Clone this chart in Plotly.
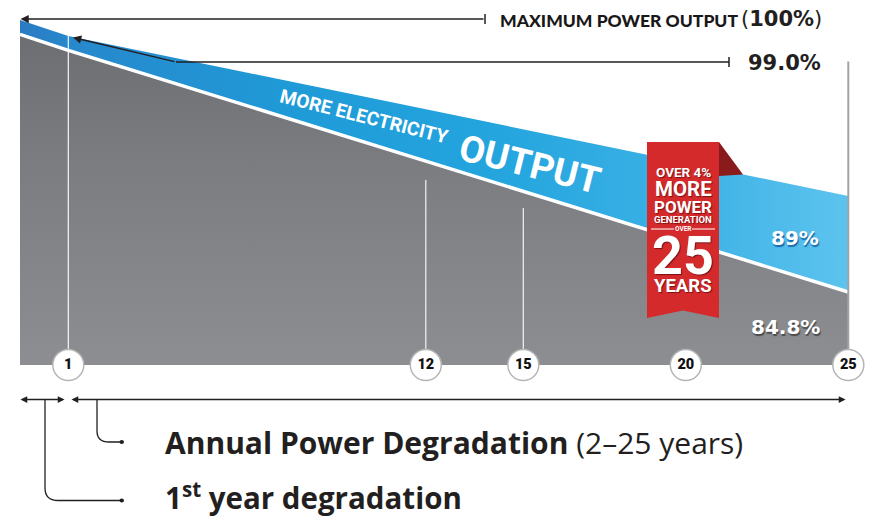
import plotly.graph_objects as go

W, H = 871, 518

# ---------------- data ----------------
YEARS = [0, 1, 25]
PREMIUM_PCT = [100.0, 99.0, 89.0]      # top edge of the blue band
STANDARD_PCT = [99.1, 98.1, 83.0]      # top edge of the grey area, as drawn
TICK_YEARS = [1, 12, 15, 20, 25]
TICK_LABELS = ["1", "12", "15", "20", "25"]
GUIDE_YEARS = [1, 12, 15]
GUIDE_TOPS = [99.0, 90.0, 88.25]
FRAME_YEAR = 25
FRAME_TOP = 97.4

Y_FLOOR = 78.4375
Y_CEIL = 101.25

DARK = "#231f20"
MAIN_FONT = "Lato"
BIG_FONT = "Open Sans"
NUM_FONT = "DejaVu Sans"
COND_FONT = "Roboto"
RIB_FONT = "Roboto"


def P(x, y):
    return x / W, 1 - y / H


fig = go.Figure()

gray_grad = dict(type="vertical", start=Y_FLOOR, stop=100,
                 colorscale=[[0, "#8d8e91"], [0.6, "#7b7c80"], [1, "#6b6c70"]])

# first-year segment on xaxis (below), years 1-25 on xaxis2 (drawn above)
segments = [
    ("x", YEARS[:2], [[0, "#2b7bc3"], [1, "#2788cc"]]),
    ("x2", YEARS[1:], [[0, "#2788cc"], [0.3, "#1f9bd8"], [0.55, "#24a5de"],
                       [0.8, "#3db2e6"], [1, "#5dc3ee"]]),
]
for xa, yrs, blue_scale in segments:
    i0 = YEARS.index(yrs[0])
    i1 = YEARS.index(yrs[-1]) + 1
    std = STANDARD_PCT[i0:i1]
    prem = PREMIUM_PCT[i0:i1]
    fig.add_trace(go.Scatter(x=yrs, y=std, xaxis=xa, yaxis="y", mode="lines",
                             line=dict(width=0), fill="tozeroy",
                             fillgradient=gray_grad, hoverinfo="skip",
                             showlegend=False))
    fig.add_trace(go.Scatter(x=yrs, y=prem, xaxis=xa, yaxis="y", mode="lines",
                             line=dict(width=0), fill="tonexty",
                             fillgradient=dict(type="horizontal",
                                               colorscale=blue_scale),
                             hoverinfo="skip", showlegend=False))
    fig.add_trace(go.Scatter(x=yrs, y=std, xaxis=xa, yaxis="y", mode="lines",
                             line=dict(color="white", width=3.5),
                             hoverinfo="skip", showlegend=False))

# guide lines
gx, gy = [], []
for yr, top in zip(GUIDE_YEARS, GUIDE_TOPS):
    gx += [yr, yr, None]
    gy += [top, Y_FLOOR, None]
fig.add_trace(go.Scatter(x=gx, y=gy, xaxis="x2", yaxis="y", mode="lines",
                         line=dict(color="rgba(255,255,255,0.9)", width=1.2),
                         hoverinfo="skip", showlegend=False))
fig.add_trace(go.Scatter(x=[FRAME_YEAR, FRAME_YEAR], y=[FRAME_TOP, Y_FLOOR],
                         xaxis="x2", yaxis="y",
                         mode="lines", line=dict(color="#a3a3a3", width=2),
                         hoverinfo="skip", showlegend=False))

# year circles
fig.add_trace(go.Scatter(x=TICK_YEARS, y=[Y_FLOOR - 0.1] * len(TICK_YEARS),
                         xaxis="x2", yaxis="y",
                         mode="markers", cliponaxis=False,
                         marker=dict(size=34, color="rgba(0,0,0,0.22)"),
                         hoverinfo="skip", showlegend=False))
fig.add_trace(go.Scatter(x=TICK_YEARS, y=[Y_FLOOR] * len(TICK_YEARS),
                         xaxis="x2", yaxis="y",
                         mode="markers+text", cliponaxis=False,
                         text=TICK_LABELS,
                         textposition="middle center",
                         textfont=dict(family="Roboto", size=14.5,
                                       color="#111", weight=900),
                         marker=dict(size=31, color="white",
                                     line=dict(color="#b5b5b5", width=1.5)),
                         hoverinfo="skip", showlegend=False))

shapes = []
ann = []


def line(x0, y0, x1, y1, color=DARK, width=1.5):
    a, b = P(x0, y0)
    c, d = P(x1, y1)
    shapes.append(dict(type="line", xref="paper", yref="paper", x0=a, y0=b,
                       x1=c, y1=d, line=dict(color=color, width=width)))


def path(points, color, fill=None, width=0, closed=True):
    s = ""
    for i, pt in enumerate(points):
        if pt[0] == "Q":
            a, b = P(*pt[1])
            c, d = P(*pt[2])
            s += " Q %f,%f %f,%f" % (a, b, c, d)
        else:
            a, b = P(*pt)
            s += (" M " if i == 0 else " L ") + "%f,%f" % (a, b)
    if closed:
        s += " Z"
    shapes.append(dict(type="path", xref="paper", yref="paper", path=s,
                       fillcolor=fill if fill else "rgba(0,0,0,0)",
                       line=dict(color=color, width=width)))


def text(x, y, t, size, color=DARK, family=MAIN_FONT, xanchor="center",
         angle=0, shadow=None, weight=None):
    a, b = P(x, y)
    f = dict(family=family, size=size, color=color)
    if shadow:
        f["shadow"] = shadow
    if weight:
        f["weight"] = weight
    ann.append(dict(x=a, y=b, xref="paper", yref="paper", text=t,
                    showarrow=False, xanchor=xanchor, yanchor="middle",
                    textangle=angle, font=f))


def arrow(x, y, tx, ty, both=False, size=1.0):
    a, b = P(x, y)
    ann.append(dict(x=a, y=b, xref="paper", yref="paper", text="",
                    showarrow=True, axref="pixel", ayref="pixel",
                    ax=tx - x, ay=ty - y, arrowhead=2, arrowsize=size,
                    arrowwidth=1.5, arrowcolor=DARK, standoff=0,
                    startstandoff=0,
                    arrowside="end+start" if both else "end"))


# ---- top callouts ----
arrow(20.5, 19, 485, 19, size=1.1)
line(485, 14, 485, 24)
text(498, 20, "MAXIMUM POWER OUTPUT", 17.5, xanchor="left",
     color="#1a1718", weight=900)
text(739, 19, "(<b>100%</b>)", 21, family=NUM_FONT, xanchor="left")

line(176, 62, 729, 62)
line(729, 57, 729, 67)
arrow(73, 37.5, 176, 62, size=1.1)
text(746, 63, "<b>99.0%</b>", 21, family=NUM_FONT, xanchor="left")

# ---- band texts ----
text(364, 116, "<b>MORE ELECTRICITY</b>", 19, color="white", family=COND_FONT,
     angle=14)
text(530, 164, "<b>OUTPUT</b>", 37, color="white", family=COND_FONT, angle=14)
text(795, 238, "<b>89%</b>", 20, color="white", family=NUM_FONT,
     shadow="1px 2px 1px #1a6aa8")
text(785, 327, "<b>84.8%</b>", 20, color="white", family=NUM_FONT,
     shadow="1px 2px 1px #4a4b4e")

# ---- ribbon ----
path([(719, 142), (743, 174.5), (719, 176)], "#8a1b1d", fill="#8a1b1d")
path([(647, 142), (719, 142), (719, 318), (683, 310.5), (647, 318)],
     "#d52a2c", fill="#d52a2c")
rs = "1px 1px 1px #7a1214"
text(683, 172, "<b>OVER 4%</b>", 13.5, color="white", family=RIB_FONT,
     shadow=rs)
text(683, 189, "<b>MORE</b>", 20.5, color="white", family=RIB_FONT, shadow=rs)
text(683, 206.5, "<b>POWER</b>", 17, color="white", family=RIB_FONT,
     shadow=rs)
text(683, 219.5, "<b>GENERATION</b>", 9.5, color="white", family=RIB_FONT,
     shadow=rs)
text(683, 229, "<b>OVER</b>", 6.5, color="white", family=RIB_FONT)
line(651, 229, 674, 229, color="white", width=1)
line(692, 229, 715, 229, color="white", width=1)
text(683, 255, "<b>25</b>", 54, color="white", family=RIB_FONT, shadow=rs)
text(683, 286, "<b>YEARS</b>", 18.5, color="white", family=RIB_FONT,
     shadow=rs)

# ---- bottom brackets ----
arrow(20.5, 399.5, 66, 399.5, both=True, size=0.9)
arrow(845.5, 399.5, 70, 399.5, both=True, size=0.9)
path([(45, 399.5), (45, 488), ("Q", (45, 500.5), (58, 500.5)), (121, 500.5)],
     DARK, width=1.3, closed=False)
path([(97, 399.5), (97, 431), ("Q", (97, 442), (109, 442)), (121, 442)],
     DARK, width=1.3, closed=False)
for yy in (442, 500.5):
    a, b = P(119.5, yy - 2)
    c, d = P(124, yy + 2)
    shapes.append(dict(type="circle", xref="paper", yref="paper",
                       x0=a, y0=b, x1=c, y1=d, fillcolor=DARK,
                       line=dict(width=0)))

text(163, 442, "<b>Annual Power Degradation</b> (2–25 years)", 30,
     family=BIG_FONT, xanchor="left")
text(163, 496, "<b>1<sup>st</sup> year degradation</b>", 29.5,
     family=BIG_FONT, xanchor="left")

fig.update_layout(
    width=W, height=H,
    margin=dict(l=0, r=0, t=0, b=0),
    paper_bgcolor="white", plot_bgcolor="rgba(0,0,0,0)",
    showlegend=False,
    xaxis=dict(domain=[0, 1], range=[-20 / 48.3, (W - 20) / 48.3],
               anchor="y", visible=False, fixedrange=True),
    xaxis2=dict(domain=[0, 1], range=[1 - 68.3 / 32.5, 1 + (W - 68.3) / 32.5],
                overlaying="x", anchor="y", visible=False, fixedrange=True),
    yaxis=dict(domain=[1 - 365 / H, 1], range=[Y_FLOOR, Y_CEIL],
               visible=False, fixedrange=True),
    shapes=shapes,
    annotations=ann,
)

fig.write_html("out.html", config={"displayModeBar": False},
               post_script="document.body.style.margin='0px';"
                           "document.body.style.overflow='hidden';")
